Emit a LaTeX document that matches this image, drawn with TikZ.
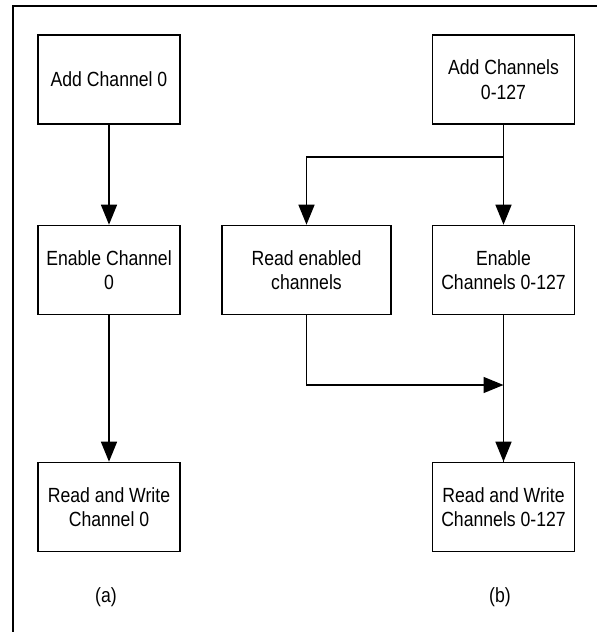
\documentclass[tikz,border=0pt]{standalone}
\usepackage{fontspec}
\setmainfont{Liberation Sans}[FakeStretch=0.86]
\usepackage{tikz}
\usetikzlibrary{positioning,arrows.meta}

\begin{document}
\begin{tikzpicture}[
      x=1pt, y=1pt,
      box/.style={draw, line width=1.6pt, align=center, minimum width=142pt, minimum height=89pt, inner sep=0pt, font=\fontsize{20.5}{24.5}\selectfont},
      wide/.style={box, minimum width=169pt},
      caption/.style={font=\fontsize{20.5}{24.5}\selectfont},
      arrow/.style={-{Triangle[length=20pt, width=16pt]}, line width=1.5pt}
    ]
    \useasboundingbox (0,0) rectangle (597,-632);
    % frame, only top and left edges
    \draw[line width=2.4pt] (597,-6) -- (13,-6) -- (13,-632);

    % (a)
    \node[box] (add0) at (109,-79.5) {Add Channel 0};
    \node[box] (en0) at (109,-270) {Enable Channel\\0};
    \node[box] (rw0) at (109,-507) {Read and Write\\Channel 0};
    \node[caption] (capa) at (106,-597) {(a)};
    \draw[arrow] (add0) -- (en0);
    \draw[arrow] (en0) -- (rw0);

    % (b)
    \node[box] (addall) at (503.5,-79.5) {Add Channels\\0-127};
    \node[box] (enall) at (503.5,-270) {Enable\\Channels 0-127};
    \node[wide] (rdall) at (306.5,-270) {Read enabled\\channels};
    \node[box] (rwall) at (503.5,-507) {Read and Write\\Channels 0-127};
    \node[caption] (capb) at (500,-597) {(b)};
    \coordinate (split) at (addall.south |- 0,-157);
    \coordinate (join) at (enall.south |- 0,-385);
    \draw[arrow] (addall) -- (enall);
    \draw[arrow] (split) -| (rdall.north);
    \draw[line width=1.5pt] (enall) -- (rwall);
    \draw[arrow] (rdall.south) |- (join);
    \draw[arrow] (join) -- (rwall);
  \end{tikzpicture}
\end{document}
